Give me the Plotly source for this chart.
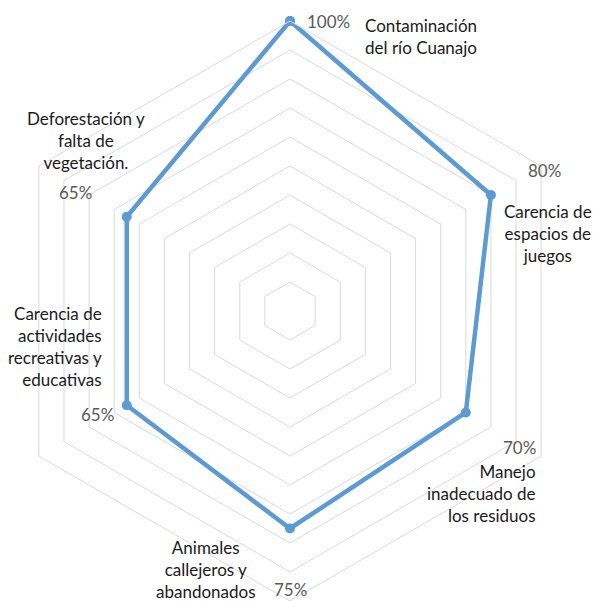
import plotly.graph_objects as go

categories = [
    "Contaminación del río Cuanajo",
    "Carencia de espacios de juegos",
    "Manejo inadecuado de los residuos",
    "Animales callejeros y abandonados",
    "Carencia de actividades recreativas y educativas",
    "Deforestación y falta de vegetación.",
]
values = [100, 80, 70, 75, 65, 65]
value_labels = ["100%", "80%", "70%", "75%", "65%", "65%"]

W, H = 594, 601
ML, MR, MT, MB = 0, 14, 21, 0
FONT = "Lato"
BLUE = "#5B9BD5"
GRID = "#D9D9D9"

fig = go.Figure()
fig.add_trace(go.Scatterpolar(
    r=values + [values[0]],
    theta=categories + [categories[0]],
    mode="lines+markers",
    line=dict(color=BLUE, width=4.5),
    marker=dict(color=BLUE, size=10),
    cliponaxis=False,
    hoverinfo="skip",
    showlegend=False,
))

PW, PH = W - ML - MR, H - MT - MB

def px(x, y):
    return (x - ML) / PW, 1 - (y - MT) / PH

# category labels: (text, x, y, anchor)
cat_pos = [
    ("Contaminación<br>del río Cuanajo", 421, 36, "center"),
    ("Carencia de<br>espacios de<br>juegos", 548, 233, "center"),
    ("Manejo<br>inadecuado de<br>los residuos", 538, 493, "right"),
    ("Animales<br>callejeros y<br>abandonados", 206, 569, "center"),
    ("Carencia de<br>actividades<br>recreativas y<br>educativas", 104, 346, "right"),
    ("Deforestación y<br>falta de<br>vegetación.", 86, 140, "center"),
]
val_pos = [(328, 22), (544, 170), (519, 447), (291, 589), (97, 414), (75, 192)]

ann = []
for text, x, y, anchor in cat_pos:
    ax, ay = px(x, y)
    ann.append(dict(text=text, x=ax, y=ay, xref="paper", yref="paper",
                    xanchor=anchor, yanchor="middle", align=anchor,
                    showarrow=False,
                    font=dict(family=FONT, size=17, color="#1a1a1a")))
for lbl, (x, y) in zip(value_labels, val_pos):
    ax, ay = px(x, y)
    ann.append(dict(text=lbl, x=ax, y=ay, xref="paper", yref="paper",
                    xanchor="center", yanchor="middle", showarrow=False,
                    font=dict(family=FONT, size=17, color="#595959")))

fig.update_layout(
    width=W, height=H,
    margin=dict(l=ML, r=MR, t=MT, b=MB),
    paper_bgcolor="white",
    plot_bgcolor="white",
    annotations=ann,
    polar=dict(
        bgcolor="white",
        gridshape="linear",
        domain=dict(x=[0, 1], y=[0, 1]),
        radialaxis=dict(range=[0, 100], dtick=10, showticklabels=False,
                        ticks="", showline=False, gridcolor=GRID,
                        gridwidth=1),
        angularaxis=dict(rotation=90, direction="clockwise",
                         showticklabels=False, ticks="", showgrid=False,
                         showline=True, linecolor=GRID, linewidth=1),
    ),
)

fig.write_html("out.html",
               config={"displayModeBar": False},
               post_script="document.body.style.margin='0';"
                           "document.body.style.overflow='hidden';")
